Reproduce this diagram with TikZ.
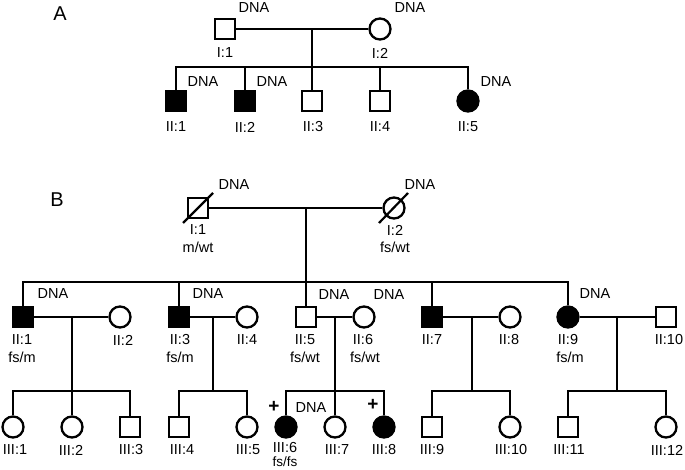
\documentclass[tikz,border=0pt]{standalone}
\usepackage{fontspec}
\setmainfont{Liberation Sans}
\begin{document}
\begin{tikzpicture}[x=1pt,y=-1pt]
\tikzset{
 ind/.style={minimum size=20.5pt, inner sep=0pt, draw, line width=2.3pt},
 male/.style={ind, rectangle},
 female/.style={ind, circle, minimum size=21pt},
 aff/.style={fill=black},
 lbl/.style={font=\fontsize{14.5}{16}\selectfont, inner sep=0pt},
 big/.style={font=\fontsize{20}{23}\selectfont, inner sep=0pt},
 plus/.style={font=\fontsize{19}{21}\selectfont\bfseries, inner sep=0pt},
 ln/.style={line width=2pt},
}
\useasboundingbox (0,0) rectangle (685,470);
% ---------------- Panel A ----------------
\node[big] (labA) at (60,14) {A};
\node[male] (A1) at (225,29) {};
\node[female] (A2) at (380,29) {};
\coordinate (Am) at (312,29);
\coordinate (As) at (312,67);
\node[male,aff] (A3) at (176,101) {};
\node[male,aff] (A4) at (245,101) {};
\node[male] (A5) at (312,101) {};
\node[male] (A6) at (380,101) {};
\node[female,aff] (A7) at (468,101) {};
\draw[ln] (A1.east) -- (A2.west);
\draw[ln] (Am) -- (As);
\draw[ln] (A3.north) -- (A3.north |- As) -- (A7.north |- As) -- (A7.north);
\foreach \n in {A4,A5,A6} \draw[ln] (\n.north) -- (\n.north |- As);
\node[lbl] (dA1) at (254,8) {DNA};
\node[lbl] (dA2) at (410,8) {DNA};
\node[lbl] (dA3) at (203,82) {DNA};
\node[lbl] (dA4) at (272,82) {DNA};
\node[lbl] (dA7) at (496,82) {DNA};
\node[lbl] (tA1) at (225,53) {I:1};
\node[lbl] (tA2) at (380,53) {I:2};
\node[lbl] (tA3) at (176,127) {II:1};
\node[lbl] (tA4) at (245,127) {II:2};
\node[lbl] (tA5) at (313,127) {II:3};
\node[lbl] (tA6) at (380,127) {II:4};
\node[lbl] (tA7) at (468,127) {II:5};
% ---------------- Panel B ----------------
\node[big] (labB) at (57,200) {B};
\node[male] (B1) at (198,208) {};
\node[female] (B2) at (394,208) {};
\draw[line width=2.2pt] ([shift={(-15,15)}]B1.center) -- ([shift={(15,-15)}]B1.center);
\draw[line width=2.2pt] ([shift={(-15,15)}]B2.center) -- ([shift={(14,-15)}]B2.center);
\coordinate (Bm) at (306,208);
\coordinate (Bs) at (306,282);
\draw[ln] (B1.east) -- (B2.west);
\draw[ln] (Bm) -- (Bs);
\node[lbl] (dB1) at (234,185) {DNA};
\node[lbl] (dB2) at (420,185) {DNA};
\node[lbl] (tB1) at (198,230) {I:1};
\node[lbl] (gB1) at (198,247) {m/wt};
\node[lbl] (tB2) at (395,230) {I:2};
\node[lbl] (gB2) at (395,247) {fs/wt};
% generation II
\node[male,aff] (C1) at (23,317) {};
\node[female] (C2) at (120,317) {};
\node[male,aff] (C3) at (179,317) {};
\node[female] (C4) at (247,317) {};
\node[male] (C5) at (306,317) {};
\node[female] (C6) at (364,317) {};
\node[male,aff] (C7) at (432,317) {};
\node[female] (C8) at (510,317) {};
\node[female,aff] (C9) at (568,317) {};
\node[male] (C10) at (666,317) {};
\draw[ln] (C1.north) -- (C1.north |- Bs) -- (C9.north |- Bs) -- (C9.north);
\foreach \n in {C3,C5,C7} \draw[ln] (\n.north) -- (\n.north |- Bs);
\draw[ln] (C1.east) -- (C2.west);
\draw[ln] (C3.east) -- (C4.west);
\draw[ln] (C5.east) -- (C6.west);
\draw[ln] (C7.east) -- (C8.west);
\draw[ln] (C9.east) -- (C10.west);
\coordinate (m1) at (72,317);  \coordinate (s1) at (72,391);
\coordinate (m2) at (213,317); \coordinate (s2) at (213,391);
\coordinate (m3) at (335,317); \coordinate (s3) at (335,391);
\coordinate (m4) at (472,317); \coordinate (s4) at (472,391);
\coordinate (m5) at (617,317); \coordinate (s5) at (617,391);
\foreach \i in {1,...,5} \draw[ln] (m\i) -- (s\i);
\node[lbl] (dC1) at (53,294) {DNA};
\node[lbl] (dC3) at (208,294) {DNA};
\node[lbl] (dC5) at (334,295) {DNA};
\node[lbl] (dC6) at (389,295) {DNA};
\node[lbl] (dC9) at (595,294) {DNA};
\node[lbl] (tC1) at (22,340) {II:1};
\node[lbl] (gC1) at (22,357) {fs/m};
\node[lbl] (tC2) at (123,340) {II:2};
\node[lbl] (tC3) at (180,340) {II:3};
\node[lbl] (gC3) at (180,357) {fs/m};
\node[lbl] (tC4) at (247,340) {II:4};
\node[lbl] (tC5) at (305,340) {II:5};
\node[lbl] (gC5) at (305,357) {fs/wt};
\node[lbl] (tC6) at (363,340) {II:6};
\node[lbl] (gC6) at (365,357) {fs/wt};
\node[lbl] (tC7) at (432,340) {II:7};
\node[lbl] (tC8) at (509,340) {II:8};
\node[lbl] (tC9) at (568,340) {II:9};
\node[lbl] (gC9) at (570,357) {fs/m};
\node[lbl] (tC10) at (669,340) {II:10};
% generation III
\node[female] (D1) at (13,427) {};
\node[female] (D2) at (72,427) {};
\node[male] (D3) at (130,427) {};
\node[male] (D4) at (179,427) {};
\node[female] (D5) at (247,427) {};
\node[female,aff] (D6) at (286,427) {};
\node[female] (D7) at (335,427) {};
\node[female,aff] (D8) at (384,427) {};
\node[male] (D9) at (432,427) {};
\node[female] (D10) at (510,427) {};
\node[male] (D11) at (568,427) {};
\node[female] (D12) at (666,427) {};
\draw[ln] (D1.north) -- (D1.north |- s1) -- (D3.north |- s1) -- (D3.north);
\draw[ln] (D2.north) -- (D2.north |- s1);
\draw[ln] (D4.north) -- (D4.north |- s2) -- (D5.north |- s2) -- (D5.north);
\draw[ln] (D6.north) -- (D6.north |- s3) -- (D8.north |- s3) -- (D8.north);
\draw[ln] (D7.north) -- (D7.north |- s3);
\draw[ln] (D9.north) -- (D9.north |- s4) -- (D10.north |- s4) -- (D10.north);
\draw[ln] (D11.north) -- (D11.north |- s5) -- (D12.north |- s5) -- (D12.north);
\node[plus] (p6) at (274,407) {+};
\node[plus] (p8) at (373,405) {+};
\node[lbl] (dD6) at (311,408) {DNA};
\node[lbl] (tD1) at (15,450) {III:1};
\node[lbl] (tD2) at (71,450) {III:2};
\node[lbl] (tD3) at (131,450) {III:3};
\node[lbl] (tD4) at (182,450) {III:4};
\node[lbl] (tD5) at (248,450) {III:5};
\node[lbl] (tD6) at (285,447.5) {III:6};
\node[lbl,font=\fontsize{13.5}{15}\selectfont] (gD6) at (285,461.5) {fs/fs};
\node[lbl] (tD7) at (337,450) {III:7};
\node[lbl] (tD8) at (384,450) {III:8};
\node[lbl] (tD9) at (432,450) {III:9};
\node[lbl] (tD10) at (511,450) {III:10};
\node[lbl] (tD11) at (569,450) {III:11};
\node[lbl] (tD12) at (667,450) {III:12};
\end{tikzpicture}
\end{document}
